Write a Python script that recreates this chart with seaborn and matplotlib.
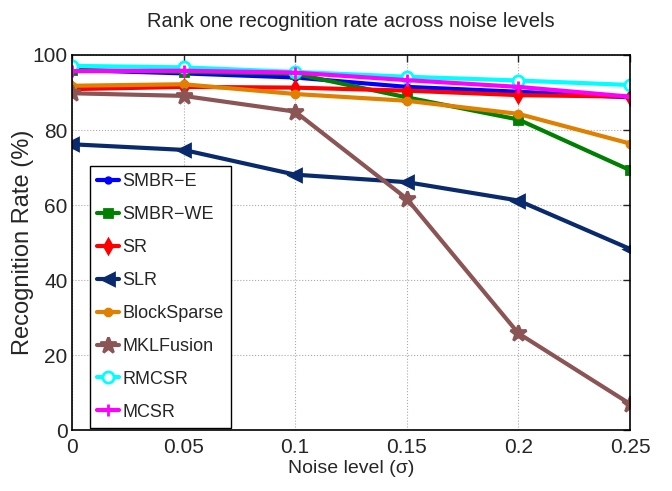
import numpy as np
import pandas as pd
import matplotlib
matplotlib.use('Agg')
import matplotlib.pyplot as plt
import seaborn as sns

noise = [0, 0.05, 0.1, 0.15, 0.2, 0.25]

smbr_e = [96.0, 95.1, 94.0, 91.5, 90.2, 88.7]
smbr_we = [96.0, 95.5, 95.0, 88.7, 82.8, 69.3]
sr = [90.9, 91.5, 91.3, 90.5, 89.3, 88.9]
slr = [76.2, 74.7, 68.1, 66.1, 61.2, 48.3]
block_sparse = [91.8, 92.2, 89.6, 87.8, 84.3, 76.4]
mkl_fusion = [89.8, 89.1, 84.9, 61.7, 25.8, 7.0]
rmcsr = [97.1, 96.7, 95.5, 94.2, 93.2, 92.0]
mcsr = [95.7, 95.8, 95.3, 93.3, 91.5, 88.9]

methods = ['SMBR\u2212E', 'SMBR\u2212WE', 'SR', 'SLR', 'BlockSparse', 'MKLFusion', 'RMCSR', 'MCSR']
values = [smbr_e, smbr_we, sr, slr, block_sparse, mkl_fusion, rmcsr, mcsr]
colors = ['#0000ff', '#008000', '#ff0000', '#0a2a6e', '#e08000', '#8c5555', '#00ffff', '#ff00ff']
markers = ['.', 's', 'd', '<', '.', '*', 'o', '+']
msizes = [8, 6, 7, 9, 10, 12, 8, 9]

sns.set_style('white')
plt.rcParams['font.family'] = ['Liberation Sans', 'DejaVu Sans']

fig = plt.figure(figsize=(6.72, 4.91), dpi=100)
ax = fig.add_axes([0.107, 0.124, 0.8305, 0.764])

for name, vals, c, m, ms in zip(methods, values, colors, markers, msizes):
    df = pd.DataFrame({'noise': noise, 'rate': vals})
    face = 'white' if name == 'RMCSR' else c
    sns.lineplot(data=df, x='noise', y='rate', ax=ax, color=c, linewidth=3,
                 marker=m, markersize=ms, markeredgecolor=c, markerfacecolor=face,
                 markeredgewidth=2, label=name)

ax.set_xlim(0, 0.25)
ax.set_ylim(0, 100)
ax.set_xticks(noise)
ax.set_xticklabels(['0', '0.05', '0.1', '0.15', '0.2', '0.25'])
ax.set_yticks([0, 20, 40, 60, 80, 100])
ax.tick_params(direction='in', top=True, right=True, length=5, width=1,
               labelsize=15)
ax.tick_params(axis='x', pad=6)
ax.tick_params(axis='y', pad=3)
ax.grid(True, linestyle=':', color='#aaaaaa', linewidth=0.8)
for s in ax.spines.values():
    s.set_linewidth(1.2)
    s.set_color('black')

ax.set_title('Rank one recognition rate across noise levels', fontsize=14.5, pad=20)
ax.set_xlabel('Noise level (\u03c3)', fontsize=14, labelpad=2)
ax.set_ylabel('Recognition Rate (%)', fontsize=17, labelpad=-1)

leg = ax.legend(loc='lower left', bbox_to_anchor=(0.032, 0.006), fontsize=13,
                frameon=True, fancybox=False, edgecolor='black', framealpha=1,
                handlelength=1.2, handletextpad=0.2, labelspacing=0.88,
                borderpad=0.4, borderaxespad=0)
leg.get_frame().set_linewidth(1)

fig.savefig('out.png', dpi=100)
